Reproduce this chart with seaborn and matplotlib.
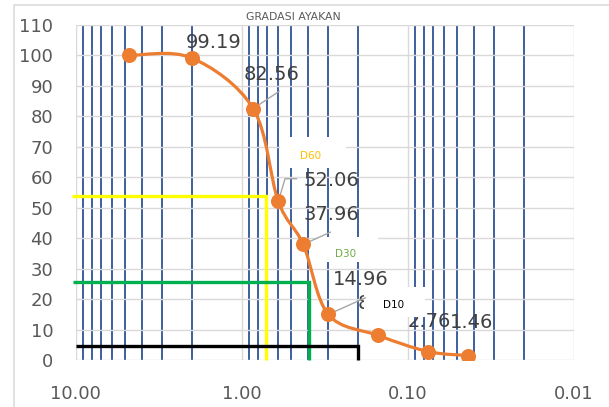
import numpy as np
import matplotlib
matplotlib.use("Agg")
import matplotlib.pyplot as plt
import seaborn as sns
from matplotlib.path import Path
from matplotlib.patches import PathPatch, Rectangle
from matplotlib.lines import Line2D
from matplotlib.ticker import FixedLocator, FixedFormatter, LogLocator, NullFormatter

# ---------------- data ----------------
sieve_mm = [4.75, 2.00, 0.85, 0.60, 0.425, 0.30, 0.15, 0.075, 0.043]
passing = [100.00, 99.19, 82.56, 52.06, 37.96, 14.96, 8.06, 2.76, 1.46]
show_label = [False, True, True, True, True, True, True, True, True]

x_ticks = [10, 1, 0.1, 0.01]
x_tick_labels = ["10.00", "1.00", "0.10", "0.01"]
y_ticks = list(range(0, 111, 10))

d_names = ["D60", "D30", "D10"]
d_level = [54.0, 25.7, 4.6]
d_size = [0.707, 0.394, 0.200]
d_start = [10.55, 10.4, 10.0]
d_line_colors = ["#FFFF00", "#00B050", "#000000"]
d_text_colors = ["#FFC000", "#70AD47", "#000000"]

title = "GRADASI AYAKAN"

# ---------------- layout / style ----------------
W, H = 609, 407
ORANGE = "#ED7D31"
BLUE = "#2E5395"
GRID = "#D9D9D9"
TXT = "#595959"
LBL = "#404040"

# label offsets in pixels from each point (layout only)
label_offsets = [(0, 0), (21.6, 15), (18.4, 34), (53.4, 21), (27.7, 30),
                 (32.7, 35), (0.5, 31.7), (1.5, 30), (3.2, 33.3)]
# leader lines (index, list of pixel offsets)
leaders = [(2, [(0, 0), (26, 17.3)]),
           (3, [(0, 0), (6.7, 22.7), (18.4, 22.7)]),
           (4, [(0, 0), (27.4, 12.3)]),
           (5, [(0, 0), (37.2, 16.7)])]
# white label boxes in reference pixels (x0, y0, x1, y1) and text centres
d_boxes = [(280, 137, 346, 168), (318, 237, 378, 262), (364, 287, 425, 317)]
d_text_pos = [(311, 156), (346, 254), (394, 305)]

sns.set_theme(style="white")
plt.rcParams["font.family"] = ["DejaVu Sans"]

fig = plt.figure(figsize=(W / 100, H / 100), dpi=100)
ax = fig.add_axes([75.5 / W, 1 - 360 / H, (573.5 - 75.5) / W, (360 - 25) / H])
ax.set_xscale("log")
ax.set_xlim(10, 0.01)
ax.set_ylim(0, 110)

# markers through seaborn
sns.scatterplot(x=sieve_mm, y=passing, ax=ax, s=117, color=ORANGE,
                edgecolor=ORANGE, linewidth=0, zorder=6, legend=False)

# smoothed line (Catmull-Rom -> cubic Bezier in log-x space)
lx = np.log10(np.array(sieve_mm))
yy = np.array(passing, dtype=float)
P = np.column_stack([lx, yy])
n = len(P)
verts = [P[0]]
codes = [Path.MOVETO]
for i in range(n - 1):
    pm = P[i - 1] if i > 0 else P[i]
    p2 = P[i + 2] if i + 2 < n else P[i + 1]
    c1 = P[i] + (P[i + 1] - pm) / 6.0
    c2 = P[i + 1] - (p2 - P[i]) / 6.0
    verts += [c1, c2, P[i + 1]]
    codes += [Path.CURVE4] * 3
verts = np.array(verts)
verts[:, 0] = 10 ** verts[:, 0]
ax.add_patch(PathPatch(Path(verts, codes), facecolor="none", edgecolor=ORANGE,
                       lw=2.3, zorder=5, capstyle="round", joinstyle="round"))

# axes, ticks, grid
ax.xaxis.set_major_locator(FixedLocator(x_ticks))
ax.xaxis.set_major_formatter(FixedFormatter(x_tick_labels))
ax.xaxis.set_minor_locator(LogLocator(base=10, subs=np.arange(2, 10), numticks=30))
ax.xaxis.set_minor_formatter(NullFormatter())
ax.set_yticks(y_ticks)
ax.set_axisbelow(True)
ax.grid(which="major", axis="both", color=GRID, lw=1.0)
ax.grid(which="minor", axis="x", color=BLUE, lw=1.3)
for s in ax.spines.values():
    s.set_visible(False)
ax.tick_params(axis="both", which="both", length=0, labelsize=13, labelcolor=TXT)
ax.tick_params(axis="y", pad=16)
ax.tick_params(axis="x", pad=18)
ax.set_xlabel("")
ax.set_ylabel("")

# D-lines
for lvl, sz, st, c in zip(d_level, d_size, d_start, d_line_colors):
    ax.plot([st, sz, sz], [lvl, lvl, 0], color=c, lw=2.4, clip_on=False,
            zorder=2, solid_joinstyle="miter", solid_capstyle="butt")

# data labels
for x, y, show, off in zip(sieve_mm, passing, show_label, label_offsets):
    if show:
        ax.annotate(f"{y:.2f}", xy=(x, y), xytext=off, textcoords="offset pixels",
                    ha="center", va="center", fontsize=14, color=LBL, zorder=3.5)

# leader lines
fig.canvas.draw()
for idx, offs in leaders:
    base = ax.transData.transform((sieve_mm[idx], passing[idx]))
    pts = np.array([base + np.array(o) for o in offs])
    dpts = ax.transData.inverted().transform(pts)
    ax.plot(dpts[:, 0], dpts[:, 1], color="#A6A6A6", lw=1.0, zorder=4)

# white boxes with D labels
for (x0, y0, x1, y1), (tx, ty), name, c in zip(d_boxes, d_text_pos, d_names, d_text_colors):
    rect = Rectangle((x0 / W, 1 - y1 / H), (x1 - x0) / W, (y1 - y0) / H,
                     transform=fig.transFigure, facecolor="white", edgecolor="none",
                     zorder=3.8)
    ax.add_patch(rect)
    ax.text(tx / W, 1 - ty / H, name, transform=fig.transFigure, ha="center",
            va="center", fontsize=7.5, color=c, zorder=3.9)

# title
fig.text(293.6 / W, 1 - 17.3 / H, title, ha="center", va="center",
         fontsize=7.8, color=TXT)

# outer chart border (left and top visible)
fig.add_artist(Line2D([13.5 / W, 13.5 / W, 1.01], [-0.01, 1 - 5 / H, 1 - 5 / H],
                      transform=fig.transFigure, color=GRID, lw=1.1))

fig.savefig("out.png", dpi=100)
